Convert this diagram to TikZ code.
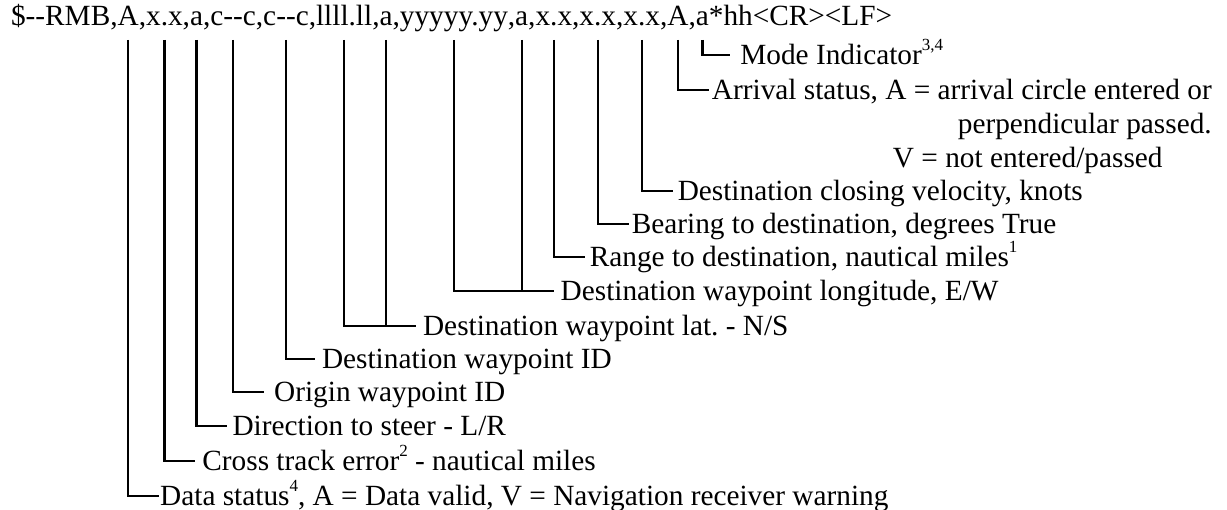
\documentclass[tikz,border=0pt]{standalone}
\usepackage{fontspec}
\setmainfont{Liberation Serif}
\usetikzlibrary{positioning,calc}
\newcommand{\fnref}[1]{\raisebox{0.48em}{\fontsize{17}{17}\selectfont #1}}
\tikzset{
  field/.style={inner sep=0pt, outer sep=0pt, text depth=14pt},
  desc/.style={anchor=west, inner xsep=5pt, inner ysep=0pt, outer sep=0pt,
    text height=19.4pt, text depth=0pt},
  leader/.style={line width=2.4pt}
}
\begin{document}
\begin{tikzpicture}[x=1pt, y=-1pt, every node/.style={font=\fontsize{29.3}{34}\selectfont}]
  \useasboundingbox (0,0) rectangle (1227,510);
  % sentence, one node per field
  \node[field, anchor=base west] (f0) at (11,26) {\$-{}-RMB};
  \foreach \nm/\txt [remember=\nm as \prev (initially f0)] in
    {fDS/A, fXTE/x.x, fDir/a, fOrig/c-{}-c, fDest/c-{}-c, fLat/llll.ll, fLatH/a,
     fLon/yyyyy.yy, fLonH/a, fRng/x.x, fBrg/x.x, fVel/x.x, fArr/A, fMode/a}{
    \node[field, base right=0pt of \prev] (\nm-sep) {,};
    \node[field, base right=0pt of \nm-sep] (\nm) {\txt};
  }
  \node[field, base right=0pt of fMode] (fEnd) {*hh<CR><LF>};
  % field descriptions
  \node[desc, inner xsep=10pt] (lMode) at ($(fMode.south |- 0,55)+(28,0)$) {Mode Indicator\fnref{3,4}};
  \node[desc, inner xsep=3pt] (lArr) at ($(fArr.south |- 0,90)+(31,0)$) {Arrival status, A = arrival circle entered or};
  \node[desc, inner xsep=3pt, anchor=base east] (lArr2) at ($(lArr.base east)+(0,34)$) {perpendicular passed.};
  \node[desc, inner xsep=0pt, anchor=base west] (lArr3) at ($(lArr.base west)+(184,68)$) {V = not entered/passed};
  \node[desc] (lVel) at ($(fVel.south |- 0,191)+(31,0)$) {Destination closing velocity, knots};
  \node[desc, inner xsep=3pt] (lBrg) at ($(fBrg.south |- 0,224)+(31,0)$) {Bearing to destination, degrees True};
  \node[desc] (lRng) at ($(fRng.south |- 0,257)+(31,0)$) {Range to destination, nautical miles\fnref{1}};
  \node[desc, inner xsep=7pt] (lLon) at ($(fLonH.south |- 0,291)+(32,0)$) {Destination waypoint longitude, E/W};
  \node[desc, inner xsep=7pt] (lLat) at ($(fLatH.south |- 0,326)+(30,0)$) {Destination waypoint lat.\ - N/S};
  \node[desc, inner xsep=7pt] (lDest) at ($(fDest.south |- 0,359)+(29,0)$) {Destination waypoint ID};
  \node[desc, inner xsep=10pt] (lOrig) at ($(fOrig.south |- 0,392)+(31,0)$) {Origin waypoint ID};
  \node[desc, inner xsep=6pt] (lDir) at ($(fDir.south |- 0,426)+(30,0)$) {Direction to steer - L/R};
  \node[desc, inner xsep=7pt] (lXTE) at ($(fXTE.south |- 0,461)+(31,0)$) {Cross track error\fnref{2} - nautical miles};
  \node[desc, inner xsep=1pt] (lDS) at ($(fDS.south |- 0,496)+(31,0)$) {Data status\fnref{4}, A = Data valid, V = Navigation receiver warning};
  % leaders
  \foreach \f/\l in {fMode/lMode, fArr/lArr, fVel/lVel, fBrg/lBrg, fRng/lRng, fLonH/lLon,
    fLatH/lLat, fDest/lDest, fOrig/lOrig, fDir/lDir, fXTE/lXTE, fDS/lDS}
    \draw[leader] (\f.south) |- (\l.west);
  \draw[leader] (fLon.south) |- (lLon.west);
  \draw[leader] (fLat.south) |- (lLat.west);
\end{tikzpicture}
\end{document}
